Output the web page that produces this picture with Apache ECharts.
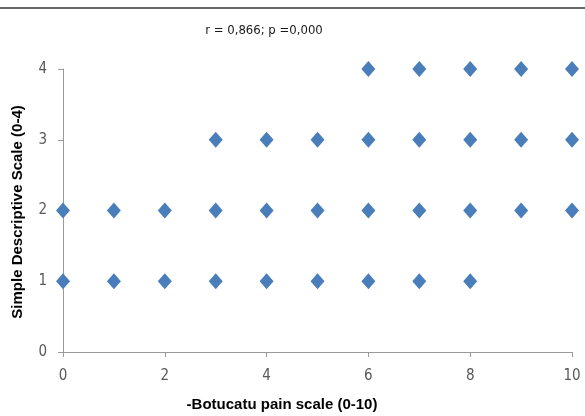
<!DOCTYPE html>
<html><head><meta charset="utf-8">
<script src="https://cdn.jsdelivr.net/npm/echarts@6/dist/echarts.min.js"></script>
<style>html,body{margin:0;padding:0;background:#fff}#c{width:585px;height:416px}</style>
</head><body><div id="c"></div>
<script>
const xValues4 = [6, 7, 8, 9, 10];
const xValues3 = [3, 4, 5, 6, 7, 8, 9, 10];
const xValues2 = [0, 1, 2, 3, 4, 5, 6, 7, 8, 9, 10];
const xValues1 = [0, 1, 2, 3, 4, 5, 6, 7, 8];
const titleText = 'r = 0,866; p =0,000';
const xAxisTitle = '-Botucatu pain scale (0-10)';
const yAxisTitle = 'Simple Descriptive Scale (0-4)';

const points = [];
xValues4.forEach(x => points.push([x, 4]));
xValues3.forEach(x => points.push([x, 3]));
xValues2.forEach(x => points.push([x, 2]));
xValues1.forEach(x => points.push([x, 1]));

const narrow = '"DejaVu Sans Condensed", "Liberation Sans Narrow", sans-serif';
const chart = echarts.init(document.getElementById('c'));
chart.setOption({
  animation: false,
  grid: {left: 63, right: 13, top: 69, bottom: 64, containLabel: false},
  graphic: [
    {type: 'line', shape: {x1: 0, y1: 8, x2: 585, y2: 8}, style: {stroke: '#333', lineWidth: 1.5}},
    {type: 'text', x: 264, y: 31, style: {text: titleText, font: '13px ' + narrow, fill: '#1a1a1a', textAlign: 'center', textVerticalAlign: 'middle'}},
    {type: 'text', x: 282, y: 405, style: {text: xAxisTitle, font: 'bold 15px Arial, "Liberation Sans", sans-serif', fill: '#000', textAlign: 'center', textVerticalAlign: 'middle'}},
    {type: 'text', x: 18, y: 212, rotation: Math.PI / 2, style: {text: yAxisTitle, font: 'bold 15px Arial, "Liberation Sans", sans-serif', fill: '#000', textAlign: 'center', textVerticalAlign: 'middle'}}
  ],
  xAxis: {
    type: 'value', min: 0, max: 10, interval: 2,
    axisLine: {show: true, lineStyle: {color: '#9a9a9a', width: 1}},
    axisTick: {show: true, length: 5, lineStyle: {color: '#9a9a9a'}},
    axisLabel: {color: '#595959', fontSize: 15, fontFamily: narrow, margin: 17},
    splitLine: {show: false}
  },
  yAxis: {
    type: 'value', min: 0, max: 4, interval: 1,
    axisLine: {show: true, lineStyle: {color: '#9a9a9a', width: 1}},
    axisTick: {show: true, length: 5, lineStyle: {color: '#9a9a9a'}},
    axisLabel: {color: '#595959', fontSize: 15, fontFamily: narrow, margin: 16},
    splitLine: {show: false}
  },
  series: [{
    type: 'scatter',
    data: points,
    symbol: 'diamond',
    symbolSize: [14, 16],
    itemStyle: {color: '#4a7ebb', opacity: 1}
  }]
});
</script></body></html>
